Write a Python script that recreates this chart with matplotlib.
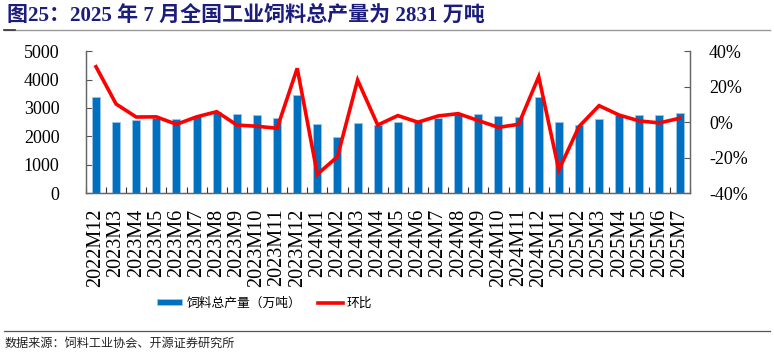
import matplotlib
matplotlib.use("Agg")
import matplotlib.pyplot as plt
from matplotlib.lines import Line2D
from matplotlib.patches import Patch
from matplotlib.ticker import FuncFormatter, FixedLocator

categories = ["2022M12",
              "2023M3", "2023M4", "2023M5", "2023M6", "2023M7", "2023M8", "2023M9",
              "2023M10", "2023M11", "2023M12",
              "2024M1", "2024M2", "2024M3", "2024M4", "2024M5", "2024M6", "2024M7",
              "2024M8", "2024M9", "2024M10", "2024M11", "2024M12",
              "2025M1", "2025M2", "2025M3", "2025M4", "2025M5", "2025M6", "2025M7"]
output = [3380, 2495, 2565, 2640, 2610, 2700, 2867, 2797, 2745, 2646, 3454,
          2435, 1968, 2460, 2411, 2495, 2490, 2635, 2790, 2797, 2727, 2692, 3394,
          2495, 2400, 2621, 2751, 2751, 2751, 2831]
mom = [31.2, 10.2, 2.9, 3.0, -1.2, 3.0, 5.9, -1.6, -2.3, -3.4, 30.3,
       -29.3, -19.4, 23.7, -1.6, 3.7, 0.0, 3.5, 4.8, 0.9, -2.9, -1.2, 25.6,
       -26.9, -2.5, 9.3, 4.0, 0.7, -0.4, 2.2]
left_ticks = [0, 1000, 2000, 3000, 4000, 5000]
right_ticks = [-40, -20, 0, 20, 40]

title = "图25：2025 年 7 月全国工业饲料总产量为 2831 万吨"
bar_label = "饲料总产量（万吨）"
line_label = "环比"
source = "数据来源：饲料工业协会、开源证券研究所"

CJK = ["Noto Sans CJK SC", "DejaVu Sans"]
SERIF = ["Liberation Serif", "DejaVu Serif"]
TITLE_FONT = ["Liberation Serif", "Noto Sans CJK SC", "DejaVu Sans"]

fig = plt.figure(figsize=(7.74, 3.57), dpi=100)
ax = fig.add_axes([0.111, 0.4585, 0.78, 0.3985])
ax2 = ax.twinx()

x = list(range(len(categories)))
ax.bar(x, output, width=0.4, color="#0070C0", edgecolor="#9DC3E6", linewidth=0.6, zorder=2)
ax2.plot(x, mom, color="#FF0000", linewidth=2.6, zorder=3, solid_joinstyle="miter")

ax.set_xlim(-0.5, len(categories) - 0.5)
ax.set_ylim(0, 5000)
ax2.set_ylim(-40, 40)
ax.set_yticks(left_ticks)
ax2.set_yticks(right_ticks)
ax2.yaxis.set_major_formatter(FuncFormatter(lambda v, p: f"{int(v)}%"))

ax.set_xticks(x)
ax.set_xticklabels(categories, rotation=90, fontfamily=SERIF, fontsize=14.5)
ax.xaxis.set_minor_locator(FixedLocator([i + 0.5 for i in range(-1, len(categories))]))
ax.tick_params(axis="x", which="major", length=0, pad=11)
ax.tick_params(axis="x", which="minor", direction="in", length=4, width=0.8, color="#333333")
ax.tick_params(axis="y", direction="in", length=4, width=0.8, color="#555555", pad=19)
ax2.tick_params(axis="y", direction="in", length=4, width=0.8, color="#555555", pad=14)
for lab in ax.get_yticklabels():
    lab.set_fontfamily(SERIF)
    lab.set_fontsize(13)
for lab in ax2.get_yticklabels():
    lab.set_fontfamily(SERIF)
    lab.set_fontsize(13)

for a in (ax, ax2):
    a.spines["top"].set_visible(False)
    for s in ("left", "right", "bottom"):
        a.spines[s].set_color("#666666")
        a.spines[s].set_linewidth(0.9)

handles = [Patch(facecolor="#0070C0", edgecolor="#9DC3E6", linewidth=0.6),
           Line2D([0], [0], color="#FF0000", linewidth=2.6)]
fig.legend(handles, [bar_label, line_label], loc="center", bbox_to_anchor=(0.342, 0.151),
           ncol=2, frameon=False, prop={"family": CJK, "size": 9.2},
           handlelength=2.0, handleheight=0.45, columnspacing=1.3, handletextpad=0.3,
           borderpad=0.0, borderaxespad=0.0)

fig.text(0.009, 0.955, title, fontfamily=TITLE_FONT, fontsize=15.1, fontweight="bold",
         color="#1C1C7C", ha="left", va="center")
fig.add_artist(Line2D([0.005, 0.995], [0.917, 0.917], color="#999999", linewidth=1.0))
fig.add_artist(Line2D([0.005, 0.02], [0.917, 0.917], color="#333333", linewidth=1.2))
fig.add_artist(Line2D([0.005, 0.995], [0.074, 0.074], color="#555555", linewidth=0.9))
fig.text(0.006, 0.038, source, fontfamily=CJK, fontsize=8.7, color="#222222",
         ha="left", va="center")

fig.savefig("out.png", dpi=100)
